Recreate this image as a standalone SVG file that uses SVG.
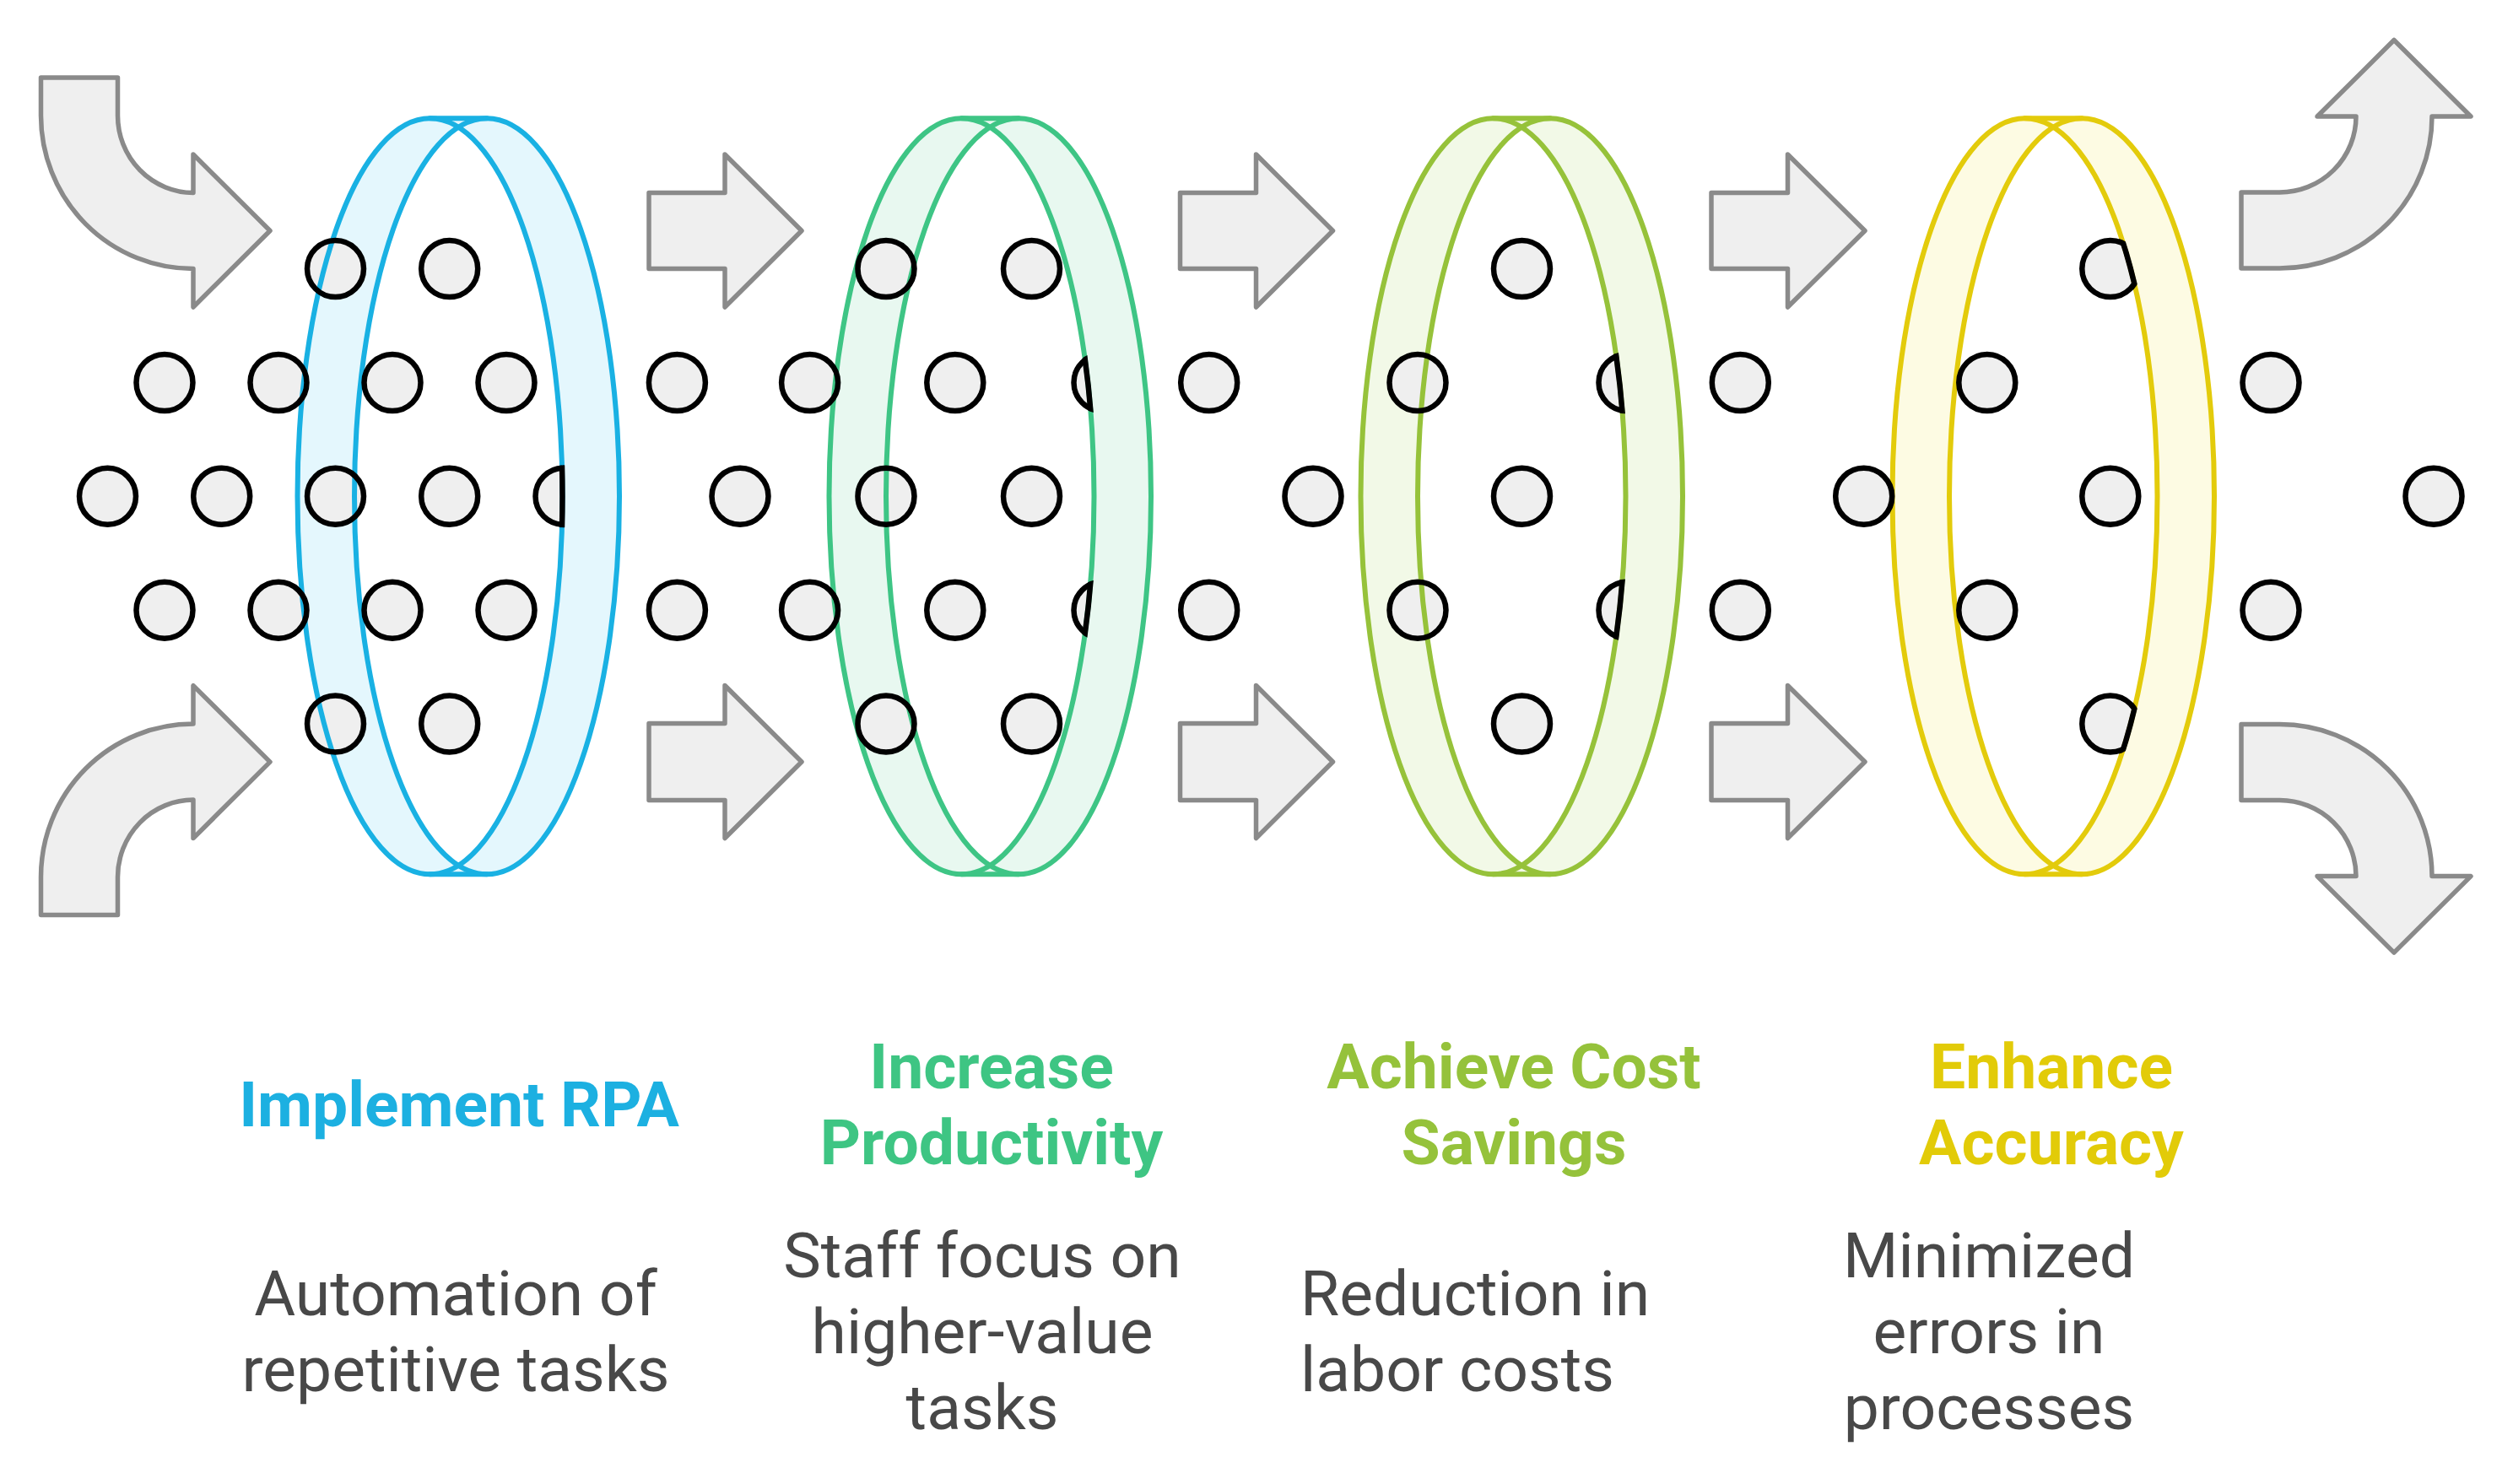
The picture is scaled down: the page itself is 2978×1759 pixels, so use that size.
<svg xmlns="http://www.w3.org/2000/svg" xmlns:xlink="http://www.w3.org/1999/xlink" width="2978" height="1759" viewBox="0 0 2978 1759">
<style>
.dotfill{fill:#EFEFEF;stroke:none}
.dotline{fill:none;stroke:#000;stroke-width:6.5}
.cut{fill:none;stroke:#000;stroke-width:6.5}
.lens{fill:#FFFFFF;stroke:none}
.ring{fill:none;stroke-width:6;stroke-linecap:round}
.arrow{fill:#EFEFEF;stroke:#8A8A8A;stroke-width:5.5;stroke-linejoin:round}
.title{font-family:Roboto,'Liberation Sans',sans-serif;font-weight:700;font-size:75px;text-anchor:middle}
.desc{font-family:Roboto,'Liberation Sans',sans-serif;font-weight:400;font-size:75px;fill:#484848;text-anchor:middle}
.c1{stroke:#19B1E3}.f1{fill:#E4F7FD}.t1{fill:#1CB0E1}
.c2{stroke:#3EC585}.f2{fill:#E8F8F0}.t2{fill:#3EC583}
.c3{stroke:#96C23A}.f3{fill:#F2F9E7}.t3{fill:#95C23B}
.c4{stroke:#E3CB0B}.f4{fill:#FDFBE3}.t4{fill:#E2CB08}
</style>
<defs>
<clipPath id="lens1"><ellipse cx="509.5" cy="588.3" rx="157" ry="448"/></clipPath>
<clipPath id="lens2"><ellipse cx="1139.5" cy="588.3" rx="157" ry="448"/></clipPath>
<clipPath id="lens3"><ellipse cx="1769.5" cy="588.3" rx="157" ry="448"/></clipPath>
<clipPath id="lens4"><ellipse cx="2399.5" cy="588.3" rx="157" ry="448"/></clipPath>
<clipPath id="vis1"><ellipse cx="509.5" cy="588.3" rx="157" ry="448"/><rect x="0" y="0" width="509.5" height="1759"/></clipPath>
<clipPath id="vis2"><ellipse cx="1139.5" cy="588.3" rx="157" ry="448"/><rect x="0" y="0" width="1139.5" height="1759"/></clipPath>
<clipPath id="vis3"><ellipse cx="1769.5" cy="588.3" rx="157" ry="448"/><rect x="0" y="0" width="1769.5" height="1759"/></clipPath>
<clipPath id="vis4"><ellipse cx="2399.5" cy="588.3" rx="157" ry="448"/><rect x="0" y="0" width="2399.5" height="1759"/></clipPath>
<clipPath id="cd1"><circle cx="668" cy="588.3" r="37"/></clipPath>
<clipPath id="cd2a"><circle cx="1306" cy="453.5" r="37"/></clipPath>
<clipPath id="cd2b"><circle cx="1306" cy="723.3" r="37"/></clipPath>
<clipPath id="cd3a"><circle cx="1928" cy="453.5" r="37"/></clipPath>
<clipPath id="cd3b"><circle cx="1928" cy="723.3" r="37"/></clipPath>
<clipPath id="cd4a"><circle cx="2500.8" cy="318.5" r="37"/></clipPath>
<clipPath id="cd4b"><circle cx="2500.8" cy="858" r="37"/></clipPath>
<g id="dots1">
<circle cx="397.5" cy="318.5" r="33.5"/><circle cx="532.7" cy="318.5" r="33.5"/>
<circle cx="195" cy="453.5" r="33.5"/><circle cx="330" cy="453.5" r="33.5"/><circle cx="465" cy="453.5" r="33.5"/><circle cx="600" cy="453.5" r="33.5"/>
<circle cx="127.5" cy="588.3" r="33.5"/><circle cx="262.7" cy="588.3" r="33.5"/><circle cx="397.5" cy="588.3" r="33.5"/><circle cx="532.7" cy="588.3" r="33.5"/>
<circle cx="668" cy="588.3" r="33.5" clip-path="url(#vis1)"/>
<circle cx="195" cy="723.3" r="33.5"/><circle cx="330" cy="723.3" r="33.5"/><circle cx="465" cy="723.3" r="33.5"/><circle cx="600" cy="723.3" r="33.5"/>
<circle cx="397.5" cy="858" r="33.5"/><circle cx="532.7" cy="858" r="33.5"/>
</g>
<g id="dots2">
<circle cx="802.4" cy="453.5" r="33.5"/><circle cx="959.6" cy="453.5" r="33.5"/><circle cx="1131.8" cy="453.5" r="33.5"/>
<circle cx="1306" cy="453.5" r="33.5" clip-path="url(#vis2)"/>
<circle cx="877" cy="588.3" r="33.5"/><circle cx="1050" cy="588.3" r="33.5"/><circle cx="1222.5" cy="588.3" r="33.5"/>
<circle cx="1050" cy="318.5" r="33.5"/><circle cx="1222.5" cy="318.5" r="33.5"/>
<circle cx="802.4" cy="723.3" r="33.5"/><circle cx="959.6" cy="723.3" r="33.5"/><circle cx="1131.8" cy="723.3" r="33.5"/>
<circle cx="1306" cy="723.3" r="33.5" clip-path="url(#vis2)"/>
<circle cx="1050" cy="858" r="33.5"/><circle cx="1222.5" cy="858" r="33.5"/>
</g>
<g id="dots3">
<circle cx="1432.7" cy="453.5" r="33.5"/><circle cx="1680" cy="453.5" r="33.5"/>
<circle cx="1928" cy="453.5" r="33.5" clip-path="url(#vis3)"/>
<circle cx="1556" cy="588.3" r="33.5"/><circle cx="1803.5" cy="588.3" r="33.5"/>
<circle cx="1803.5" cy="318.5" r="33.5"/>
<circle cx="1432.7" cy="723.3" r="33.5"/><circle cx="1680" cy="723.3" r="33.5"/>
<circle cx="1928" cy="723.3" r="33.5" clip-path="url(#vis3)"/>
<circle cx="1803.5" cy="858" r="33.5"/>
</g>
<g id="dots4">
<circle cx="2062.3" cy="453.5" r="33.5"/><circle cx="2354.8" cy="453.5" r="33.5"/><circle cx="2691" cy="453.5" r="33.5"/>
<circle cx="2208.7" cy="588.3" r="33.5"/><circle cx="2500.8" cy="588.3" r="33.5"/><circle cx="2884" cy="588.3" r="33.5"/>
<circle cx="2500.8" cy="318.5" r="33.5" clip-path="url(#vis4)"/>
<circle cx="2062.3" cy="723.3" r="33.5"/><circle cx="2354.8" cy="723.3" r="33.5"/><circle cx="2691" cy="723.3" r="33.5"/>
<circle cx="2500.8" cy="858" r="33.5" clip-path="url(#vis4)"/>
</g>
</defs>
<rect x="0" y="0" width="2978" height="1759" fill="#FFFFFF"/>

<g id="connectors">
<path class="arrow" d="M48.5 92 L139.5 92 L139.5 137 A90 91.5 0 0 0 229 228.5 L229 183 L320 273.5 L229 364 L229 318.5 A180.5 181.5 0 0 1 48.5 137 Z"/>
<path class="arrow" transform="matrix(1 0 0 -1 0 1176.6)" d="M48.5 92 L139.5 92 L139.5 137 A90 91.5 0 0 0 229 228.5 L229 183 L320 273.5 L229 364 L229 318.5 A180.5 181.5 0 0 1 48.5 137 Z"/>
<path class="arrow" d="M769 228.5 H859 V183 L950 273.5 L859 364 V318.5 H769 Z"/>
<path class="arrow" d="M769 857.5 H859 V812.5 L950 903 L859 993.5 V948.5 H769 Z"/>
<path class="arrow" d="M1398.5 228.5 H1488.5 V183 L1579.5 273.5 L1488.5 364 V318.5 H1398.5 Z"/>
<path class="arrow" d="M1398.5 857.5 H1488.5 V812.5 L1579.5 903 L1488.5 993.5 V948.5 H1398.5 Z"/>
<path class="arrow" d="M2028 228.5 H2118.5 V183 L2210 273.5 L2118.5 364 V318.5 H2028 Z"/>
<path class="arrow" d="M2028 857.5 H2118.5 V812.5 L2210 903 L2118.5 993.5 V948.5 H2028 Z"/>
<path class="arrow" d="M2656 228 L2701.5 228 A90.5 90 0 0 0 2792 138 L2746 138 L2837 47.5 L2928 138 L2882 138 A180.5 180 0 0 1 2701.5 318 L2656 318 Z"/>
<path class="arrow" transform="matrix(1 0 0 -1 0 1176.6)" d="M2656 228 L2701.5 228 A90.5 90 0 0 0 2792 138 L2746 138 L2837 47.5 L2928 138 L2882 138 A180.5 180 0 0 1 2701.5 318 L2656 318 Z"/>
</g>

<g id="stage-1">
<path class="f1" d="M509.5 140.3 L577 140.3 A157 448 0 0 1 577 1036.3 L509.5 1036.3 A157 448 0 0 1 509.5 140.3 Z"/>
<ellipse class="lens" clip-path="url(#lens1)" cx="577" cy="588.3" rx="157" ry="448"/>
<use xlink:href="#dots1" href="#dots1" class="dotfill"/>
<g class="ring c1"><ellipse cx="509.5" cy="588.3" rx="157" ry="448"/><ellipse cx="577" cy="588.3" rx="157" ry="448"/><path d="M509.5 140.3 H577 M509.5 1036.3 H577"/></g>
<use xlink:href="#dots1" href="#dots1" class="dotline"/>
<ellipse class="cut" clip-path="url(#cd1)" cx="509.5" cy="588.3" rx="157" ry="448"/>
<text class="title t1" x="544" y="1335">Implement RPA</text>
<text class="desc" x="540" y="1559">Automation of</text>
<text class="desc" x="540" y="1649">repetitive tasks</text>
</g>

<g id="stage-2">
<path class="f2" d="M1139.5 140.3 L1207 140.3 A157 448 0 0 1 1207 1036.3 L1139.5 1036.3 A157 448 0 0 1 1139.5 140.3 Z"/>
<ellipse class="lens" clip-path="url(#lens2)" cx="1207" cy="588.3" rx="157" ry="448"/>
<use xlink:href="#dots2" href="#dots2" class="dotfill"/>
<g class="ring c2"><ellipse cx="1139.5" cy="588.3" rx="157" ry="448"/><ellipse cx="1207" cy="588.3" rx="157" ry="448"/><path d="M1139.5 140.3 H1207 M1139.5 1036.3 H1207"/></g>
<use xlink:href="#dots2" href="#dots2" class="dotline"/>
<ellipse class="cut" clip-path="url(#cd2a)" cx="1139.5" cy="588.3" rx="157" ry="448"/>
<ellipse class="cut" clip-path="url(#cd2b)" cx="1139.5" cy="588.3" rx="157" ry="448"/>
<text class="title t2" x="1175" y="1290">Increase</text>
<text class="title t2" x="1175" y="1380">Productivity</text>
<text class="desc" x="1164" y="1514">Staff focus on</text>
<text class="desc" x="1164" y="1604">higher-value</text>
<text class="desc" x="1164" y="1694">tasks</text>
</g>

<g id="stage-3">
<path class="f3" d="M1769.5 140.3 L1837 140.3 A157 448 0 0 1 1837 1036.3 L1769.5 1036.3 A157 448 0 0 1 1769.5 140.3 Z"/>
<ellipse class="lens" clip-path="url(#lens3)" cx="1837" cy="588.3" rx="157" ry="448"/>
<use xlink:href="#dots3" href="#dots3" class="dotfill"/>
<g class="ring c3"><ellipse cx="1769.5" cy="588.3" rx="157" ry="448"/><ellipse cx="1837" cy="588.3" rx="157" ry="448"/><path d="M1769.5 140.3 H1837 M1769.5 1036.3 H1837"/></g>
<use xlink:href="#dots3" href="#dots3" class="dotline"/>
<ellipse class="cut" clip-path="url(#cd3a)" cx="1769.5" cy="588.3" rx="157" ry="448"/>
<ellipse class="cut" clip-path="url(#cd3b)" cx="1769.5" cy="588.3" rx="157" ry="448"/>
<text class="title t3" x="1794" y="1290">Achieve Cost</text>
<text class="title t3" x="1794" y="1380">Savings</text>
<text class="desc" x="1541" y="1559" style="text-anchor:start">Reduction in</text>
<text class="desc" x="1541" y="1649" style="text-anchor:start">labor costs</text>
</g>

<g id="stage-4">
<path class="f4" d="M2399.5 140.3 L2467 140.3 A157 448 0 0 1 2467 1036.3 L2399.5 1036.3 A157 448 0 0 1 2399.5 140.3 Z"/>
<ellipse class="lens" clip-path="url(#lens4)" cx="2467" cy="588.3" rx="157" ry="448"/>
<use xlink:href="#dots4" href="#dots4" class="dotfill"/>
<g class="ring c4"><ellipse cx="2399.5" cy="588.3" rx="157" ry="448"/><ellipse cx="2467" cy="588.3" rx="157" ry="448"/><path d="M2399.5 140.3 H2467 M2399.5 1036.3 H2467"/></g>
<use xlink:href="#dots4" href="#dots4" class="dotline"/>
<ellipse class="cut" clip-path="url(#cd4a)" cx="2399.5" cy="588.3" rx="157" ry="448"/>
<ellipse class="cut" clip-path="url(#cd4b)" cx="2399.5" cy="588.3" rx="157" ry="448"/>
<text class="title t4" x="2431" y="1290">Enhance</text>
<text class="title t4" x="2431" y="1380">Accuracy</text>
<text class="desc" x="2357" y="1514">Minimized</text>
<text class="desc" x="2357" y="1604">errors in</text>
<text class="desc" x="2357" y="1694">processes</text>
</g>
</svg>
